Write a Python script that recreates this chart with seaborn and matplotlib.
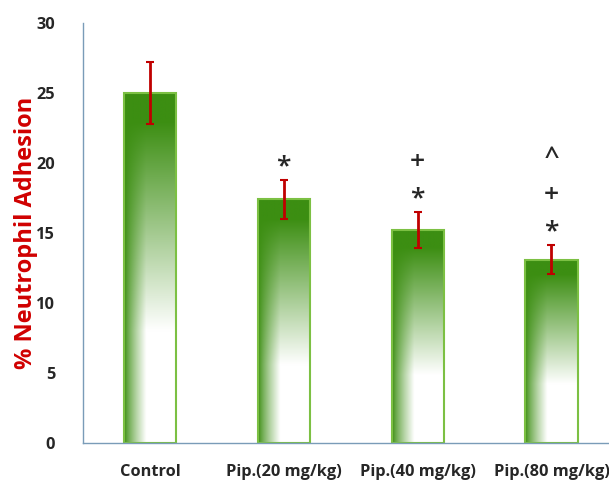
import numpy as np
import pandas as pd
import matplotlib
matplotlib.use("Agg")
import matplotlib.pyplot as plt
import seaborn as sns
from matplotlib.colors import to_rgb

# data
groups = ["Control", "Pip.(20 mg/kg)", "Pip.(40 mg/kg)", "Pip.(80 mg/kg)"]
adhesion = [25.0, 17.4, 15.2, 13.1]
sem = [2.2, 1.4, 1.3, 1.05]
marks = ["", "*", "+\n*", "^\n+\n*"]

df = pd.DataFrame({"group": groups, "adhesion": adhesion})

sns.set_style("white")
plt.rcParams["font.family"] = ["Open Sans", "DejaVu Sans"]

fig = plt.figure(figsize=(6.09, 4.82), dpi=100)
ax = fig.add_axes([83 / 609, 39 / 482, 1 - 83 / 609, (443 - 23) / 482])

sns.barplot(data=df, x="group", y="adhesion", ax=ax, width=0.39,
            color="#4a9a1f", edgecolor="#7cc043", linewidth=1.5, errorbar=None)

# gradient fill: dark green at top, fading to white toward bottom right
green = np.array(to_rgb("#3c8e12"))
white = np.ones(3)
ny, nx = 200, 60
v = np.linspace(0, 1, ny)[:, None]
h = np.linspace(0, 1, nx)[None, :]
w = np.clip((v - 0.08) / 0.6, 0, 1) * np.clip(h / 0.42, 0, 1) ** 0.8
img = green * (1 - w[..., None]) + white * w[..., None]
for p in ax.patches:
    x0, y0 = p.get_x(), p.get_y()
    im = ax.imshow(img, extent=[x0, x0 + p.get_width(), y0, y0 + p.get_height()],
                   aspect="auto", origin="upper", zorder=p.get_zorder() + 0.1)
    im.set_clip_path(p)
    p.set_facecolor("none")
    p.set_zorder(p.get_zorder() + 0.2)

ax.errorbar(range(len(groups)), adhesion, yerr=sem, fmt="none",
            ecolor="#c00000", elinewidth=2, capsize=3, capthick=1.5, zorder=5)

for i, m in enumerate(marks):
    if m:
        ax.text(i, adhesion[i] + sem[i] + 0.05, m, ha="center", va="bottom",
                fontsize=19, fontweight="semibold", linespacing=1.6)

ax.set_xlim(-0.5, 3.43)
ax.set_ylim(0, 30)
ax.set_yticks(range(0, 31, 5))
ax.set_xlabel("")
ax.set_ylabel("% Neutrophil Adhesion", color="#d00000", fontsize=17,
              fontweight="bold")
ax.yaxis.set_label_coords(-0.085, 0.5)
ax.tick_params(axis="both", length=0, labelsize=11.8)
ax.tick_params(axis="y", pad=20)
ax.tick_params(axis="x", pad=15)
for lbl in ax.get_xticklabels() + ax.get_yticklabels():
    lbl.set_fontweight("bold")

for s in ["top", "right"]:
    ax.spines[s].set_visible(False)
for s in ["left", "bottom"]:
    ax.spines[s].set_color("#7a9cb8")
    ax.spines[s].set_linewidth(1)

fig.savefig("out.png", dpi=100)
